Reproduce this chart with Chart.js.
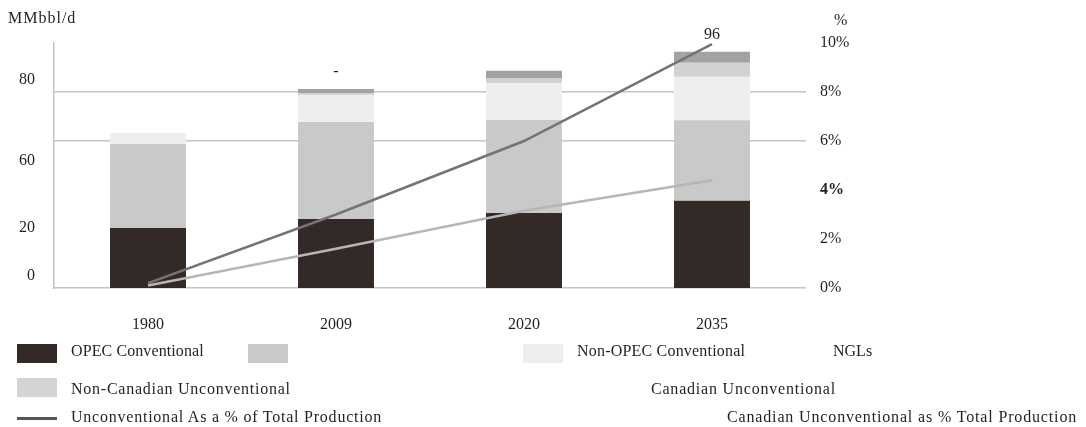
<!DOCTYPE html>
<html lang="en">
<head>
  <meta charset="UTF-8" />
  <title>Oil production by type</title>
  <script src="https://cdn.jsdelivr.net/npm/chart.js"></script>
  <style>
    body { margin: 0; background: #fff; font-family: "Liberation Serif", "DejaVu Serif", serif; color: #231f20; }
    #wrap { position: relative; width: 1086px; height: 427px; overflow: hidden; }
    #chart { position: absolute; left: 0; top: 0; }
    .txt { position: absolute; font-size: 16px; line-height: 18px; white-space: nowrap; }
    .sw { position: absolute; width: 40px; height: 19px; }
  </style>
</head>
<body>
  <div id="wrap">
    <canvas id="chart" width="1086" height="427"></canvas>
    <div class="txt" style="left:8px; top:9px; letter-spacing:1px;">MMbbl/d</div>
    <div class="txt" style="left:834px; top:11px;">%</div>
    <div id="legend"></div>
  </div>

  <script>
    // values (left axis MMbbl/d, right axis %)
    const years = ['1980', '2009', '2020', '2035'];
    const opecConv = [24.5, 28.2, 30.6, 35.6];
    const nonOpecConv = [34.3, 39.6, 38.0, 32.9];
    const ngls = [4.5, 11.0, 15.1, 17.7];
    const nonCanUnconv = [0, 0.8, 2.0, 5.7];
    const canUnconv = [0, 1.6, 3.0, 4.5];
    const unconvPct = [0.2, 3.0, 6.0, 9.95];
    const canUnconvPct = [0.1, 1.6, 3.15, 4.4];
    const topLabels = ['', '-', '', '96'];

    const leftTickLabels = ['0', '20', '60', '80'];
    const leftTickAt = [4.9, 24.5, 51.8, 84.9];
    const rightGridShown = [0, 6, 8];

    const FONT = '"Liberation Serif", "DejaVu Serif", serif';
    const INK = '#231f20';

    const topLabelPlugin = {
      id: 'topLabels',
      afterDatasetsDraw(chart) {
        const ctx = chart.ctx;
        const xs = chart.scales.x, ys = chart.scales.y;
        ctx.save();
        ctx.font = '16px ' + FONT;
        ctx.fillStyle = INK;
        ctx.textAlign = 'center';
        ctx.textBaseline = 'middle';
        years.forEach((yr, i) => {
          if (!topLabels[i]) return;
          const total = opecConv[i] + nonOpecConv[i] + ngls[i] + nonCanUnconv[i] + canUnconv[i];
          ctx.fillText(topLabels[i], xs.getPixelForValue(i), ys.getPixelForValue(total) - 17);
        });
        ctx.restore();
      }
    };

    const bar = (label, data, color) => ({
      type: 'bar', label, data, backgroundColor: color, borderWidth: 0,
      yAxisID: 'y', order: 2, barPercentage: 0.404, categoryPercentage: 1
    });
    const line = (label, data, color) => ({
      type: 'line', label, data, borderColor: color, borderWidth: 2.5,
      pointRadius: 0, tension: 0, fill: false, yAxisID: 'y1', order: 1
    });

    new Chart(document.getElementById('chart'), {
      data: {
        labels: years,
        datasets: [
          bar('OPEC Conventional', opecConv, '#332a28'),
          bar('Non-OPEC Conventional', nonOpecConv, '#c9c9c9'),
          bar('NGLs', ngls, '#efeeed'),
          bar('Non-Canadian Unconventional', nonCanUnconv, '#d2d2d2'),
          bar('Canadian Unconventional', canUnconv, '#a2a2a2'),
          line('Canadian Unconventional as % Total Production', canUnconvPct, '#b6b6b6'),
          line('Unconventional As a % of Total Production', unconvPct, '#747474')
        ]
      },
      options: {
        responsive: false,
        animation: false,
        layout: { padding: { top: 43, left: 0, right: 0, bottom: 0 } },
        plugins: { legend: { display: false }, tooltip: { enabled: false } },
        scales: {
          x: {
            stacked: true,
            grid: { display: false },
            border: { display: false },
            ticks: { padding: 19, color: INK, font: { family: FONT, size: 16 } },
            afterFit(s) { s.height = 139; }
          },
          y: {
            stacked: true, position: 'left', min: 0, max: 100,
            grid: { display: false, drawTicks: false },
            border: { display: true, color: '#c4c4c4', width: 1.5 },
            afterBuildTicks(s) { s.ticks = leftTickAt.map(v => ({ value: v })); },
            ticks: {
              padding: 19, color: INK, font: { family: FONT, size: 16 },
              callback: (v, i) => leftTickLabels[i]
            },
            afterFit(s) { s.width = 54; }
          },
          y1: {
            position: 'right', min: 0, max: 10,
            grid: {
              drawTicks: false, lineWidth: 1.5,
              color: c => rightGridShown.includes(c.tick && c.tick.value) ? '#c4c4c4' : 'rgba(0,0,0,0)'
            },
            border: { display: false },
            ticks: {
              stepSize: 2, padding: 14, color: INK,
              font: c => ({ family: FONT, size: 16, weight: c.tick && c.tick.value === 4 ? 'bold' : 'normal' }),
              callback: v => v + '%'
            },
            afterFit(s) { s.width = 280; }
          }
        }
      },
      plugins: [topLabelPlugin]
    });

    // legend, laid out as in the source picture
    const legendItems = [
      { sw: '#332a28', sx: 17, sy: 344, text: 'OPEC Conventional', tx: 71, ty: 342, ls: 0.1 },
      { sw: '#c9c9c9', sx: 248, sy: 344 },
      { sw: '#efeeed', sx: 523, sy: 344, text: 'Non-OPEC Conventional', tx: 577, ty: 342, ls: 0.2 },
      { text: 'NGLs', tx: 833, ty: 342, ls: 0 },
      { sw: '#d4d4d4', sx: 17, sy: 378, text: 'Non-Canadian Unconventional', tx: 71, ty: 380, ls: 0.75 },
      { text: 'Canadian Unconventional', tx: 651, ty: 380, ls: 0.8 },
      { line: '#555555', sx: 17, sy: 417, text: 'Unconventional As a % of Total Production', tx: 71, ty: 408, ls: 0.77 },
      { text: 'Canadian Unconventional as % Total Production', tx: 727, ty: 408, ls: 0.85 }
    ];
    const legend = document.getElementById('legend');
    legendItems.forEach(it => {
      if (it.sw) {
        const d = document.createElement('div');
        d.className = 'sw';
        d.style.cssText = `left:${it.sx}px; top:${it.sy}px; background:${it.sw};`;
        legend.appendChild(d);
      }
      if (it.line) {
        const d = document.createElement('div');
        d.style.cssText = `position:absolute; left:${it.sx}px; top:${it.sy}px; width:40px; height:3px; background:${it.line};`;
        legend.appendChild(d);
      }
      if (it.text) {
        const t = document.createElement('div');
        t.className = 'txt';
        t.style.cssText = `left:${it.tx}px; top:${it.ty}px; letter-spacing:${it.ls}px;`;
        t.textContent = it.text;
        legend.appendChild(t);
      }
    });
  </script>
</body>
</html>
